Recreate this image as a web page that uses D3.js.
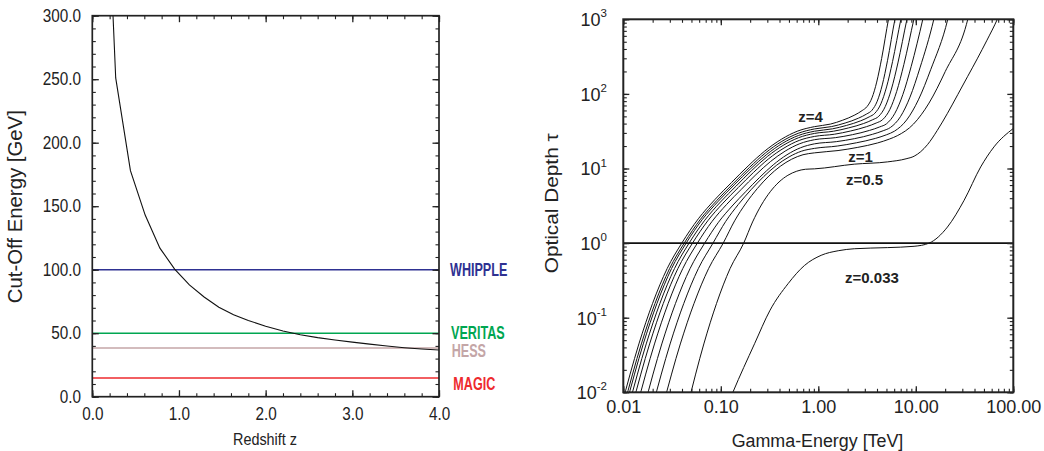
<!DOCTYPE html>
<html>
<head>
<meta charset="utf-8">
<script src="https://cdn.jsdelivr.net/npm/d3@7"></script>
<style>
  html, body { margin: 0; padding: 0; background: #fff; }
  svg { display: block; }
  text { font-family: "Liberation Sans", Arial, Helvetica, sans-serif; fill: #222; }
</style>
</head>
<body>
<svg id="chart" width="1044" height="451"></svg>
<script>
// ---------- Left panel: cut-off energy versus redshift ----------
const redshift  = [0.10, 0.27, 0.44, 0.61, 0.78, 0.95, 1.12, 1.29, 1.46, 1.63, 1.80, 2.00, 2.20, 2.40, 2.60, 2.80, 3.00, 3.20, 3.40, 3.60, 3.80, 4.00];
const cutoffGeV = [520, 251, 178, 143, 117, 100.5, 88, 78.5, 70.5, 64.5, 60, 55.5, 51.8, 48.8, 46.5, 44.6, 43.0, 41.4, 39.9, 38.6, 37.6, 36.8];

const instruments      = ["WHIPPLE", "VERITAS", "HESS", "MAGIC"];
const thresholdsGeV    = [100, 50, 38.3, 14.7];
const instrumentColors = ["#2e3192", "#00a651", "#c4a6a7", "#ee2a2e"];

const redshiftTicks = [0, 1, 2, 3, 4];
const energyGeVTicks = [0, 50, 100, 150, 200, 250, 300];

// ---------- Right panel: optical depth versus gamma energy ----------
const energyTeVTicks = [0.01, 0.1, 1, 10, 100];
const tauTicks = [0.01, 0.1, 1, 10, 100, 1000];

// each curve: [energy in TeV, optical depth]
const tau_z0033 = [[0.115,0.0063],[0.133,0.01],[0.222,0.0448],[0.32,0.126],[0.49,0.286],[0.72,0.50],[1.07,0.686],[1.6,0.79],[2.34,0.84],[5.1,0.87],[9.6,0.906],[13.7,1.0],[21.1,1.64],[31.3,3.75],[46.3,10.5],[63.4,19.5],[100,34.4]];
const tau_z05 = [[0.0455,0.00646],[0.067,0.0445],[0.0904,0.155],[0.1245,0.456],[0.1718,1],[0.2118,1.92],[0.2606,3.24],[0.3214,4.88],[0.3954,6.59],[0.4875,8.11],[0.6012,9.20],[0.7396,9.77],[0.912,9.89],[2.339,11.43],[5.14,12.27],[7.943,13.49],[9.616,14.62],[11.22,16.79],[13.18,20.89],[16.6,32.36],[21.13,54.95],[26.92,97.7],[33.88,169.8],[42.66,295],[53.7,525],[68.55,1000],[79.43,1585]];
const tau_z1 = [[0.02541,0.00646],[0.03846,0.0445],[0.05309,0.155],[0.07499,0.456],[0.1059,1],[0.1387,1.99],[0.1816,3.44],[0.2377,5.41],[0.3112,7.92],[0.4074,10.7],[0.5321,13.3],[0.6966,15.3],[0.912,16.2],[1.594,17.4],[2.541,19.2],[4.052,22.0],[5.358,24.8],[6.457,27.5],[9.469,39.4],[13.66,75.3],[20.03,199],[34.12,1000],[39.17,2239]];
const tau_band3 = [[0.01995,0.00646],[0.0302,0.0445],[0.04169,0.155],[0.05888,0.456],[0.08318,1],[0.1122,1.95],[0.1514,3.30],[0.2042,5.19],[0.2754,7.79],[0.3715,11.0],[0.5012,14.3],[0.6761,17.1],[0.912,18.6],[1.567,20.0],[2.455,22.1],[3.846,25.3],[5.035,28.4],[6.026,31.6],[8.054,44.7],[10.63,83.2],[14.21,211],[21.28,1000],[24.43,2239]];
const tau_band4 = [[0.01641,0.00646],[0.02483,0.0445],[0.03428,0.155],[0.04842,0.456],[0.06839,1],[0.0946,1.90],[0.1306,3.14],[0.1807,4.92],[0.25,7.59],[0.3451,11.2],[0.4775,15.3],[0.6592,19.0],[0.912,21.4],[1.531,22.9],[2.344,25.1],[3.589,28.7],[4.634,32.1],[5.495,35.5],[6.958,49.5],[8.716,90.4],[11.03,223],[15.31,1000],[17.58,2239]];
const tau_band5 = [[0.0138,0.00646],[0.02089,0.0445],[0.02884,0.155],[0.04074,0.456],[0.05754,1],[0.08128,1.95],[0.1148,3.30],[0.1622,5.25],[0.2291,8.26],[0.3236,12.4],[0.4571,17.1],[0.6457,21.5],[0.912,24.3],[1.496,25.9],[2.239,28.4],[3.350,32.4],[4.266,36.1],[5.012,39.8],[6.104,55.0],[7.369,98.2],[8.974,234],[11.80,1000],[13.55,2239]];
const tau_band6 = [[0.0123,0.00646],[0.01862,0.0445],[0.0257,0.155],[0.03631,0.456],[0.05129,1],[0.0735,1.99],[0.1052,3.43],[0.151,5.55],[0.2163,8.85],[0.3097,13.5],[0.4446,18.8],[0.6368,23.8],[0.912,26.9],[1.462,28.8],[2.138,31.8],[3.126,36.4],[3.926,40.7],[4.571,45.2],[5.415,61.7],[6.368,108],[7.545,248],[9.55,1000],[10.96,2239]];
const tau_band7 = [[0.01135,0.00646],[0.01718,0.0445],[0.02371,0.155],[0.0335,0.456],[0.04732,1],[0.0686,2.03],[0.0991,3.55],[0.1436,5.81],[0.2075,9.40],[0.3006,14.5],[0.4355,20.4],[0.6295,25.9],[0.912,29.5],[1.429,31.6],[2.042,35.0],[2.917,40.1],[3.614,45.1],[4.169,50.1],[4.86,67.6],[5.623,116],[6.555,260],[8.11,1000],[9.311,2239]];
const tau_band8 = [[0.01059,0.00646],[0.01603,0.0445],[0.02213,0.155],[0.03126,0.456],[0.04416,1],[0.0644,2.06],[0.0942,3.64],[0.1374,6.03],[0.2009,9.84],[0.2931,15.3],[0.4276,21.7],[0.6252,27.7],[0.912,31.6],[1.396,34.0],[1.950,37.8],[2.723,43.6],[3.327,49.2],[3.802,55.0],[4.38,73.5],[5.014,124],[5.776,271],[7.031,1000],[8.072,2239]];
const tau_band9 = [[0.01012,0.00646],[0.01531,0.0445],[0.02113,0.155],[0.02985,0.456],[0.04217,1],[0.06194,2.09],[0.0910,3.73],[0.1337,6.25],[0.1963,10.3],[0.2877,16.2],[0.4227,23.1],[0.6209,29.6],[0.912,33.9],[1.372,36.5],[1.884,40.7],[2.585,47.3],[3.126,53.7],[3.548,60.3],[4.021,79.8],[4.532,132],[5.134,282],[6.109,1000],[7.015,2239]];
const tau_z4 = [[0.00955,0.00646],[0.01445,0.0445],[0.01995,0.155],[0.02818,0.456],[0.03981,1],[0.05888,2.12],[0.0871,3.84],[0.1288,6.49],[0.1905,10.8],[0.2818,17.1],[0.4169,24.6],[0.6166,31.8],[0.912,36.4],[1.334,39.4],[1.778,44.4],[2.371,52.2],[2.818,59.8],[3.162,67.6],[3.553,88.5],[3.972,144],[4.463,298],[5.248,1000],[6.026,2239]];

const tauCurves = [tau_z0033, tau_z05, tau_z1, tau_band3, tau_band4, tau_band5, tau_band6, tau_band7, tau_band8, tau_band9, tau_z4];

const curveLabels = ["z=4", "z=1", "z=0.5", "z=0.033"];

// ---------- drawing ----------
const svg = d3.select("#chart");
const ink = "#222";

function tickStyle(g, w) {
  g.select(".domain").remove();
  g.selectAll(".tick line").attr("stroke", ink).attr("stroke-width", w);
}

// ===== Left panel =====
const L = { x0: 92.3, x1: 439, y0: 15.7, y1: 396.7 };
const xZ = d3.scaleLinear().domain([0, 4]).range([L.x0, L.x1]);
const yE = d3.scaleLinear().domain([0, 300]).range([L.y1, L.y0]);
const left = svg.append("g");

left.append("clipPath").attr("id", "clipL").append("rect")
  .attr("x", L.x0).attr("y", L.y0).attr("width", L.x1 - L.x0).attr("height", L.y1 - L.y0);

// instrument thresholds
const labelDy = [6.3, 6.1, 9.2, 12];
const labelX = [450, 451, 451.7, 453.3];
thresholdsGeV.forEach((v, i) => {
  left.append("line")
    .attr("x1", xZ(0)).attr("x2", xZ(4)).attr("y1", yE(v)).attr("y2", yE(v))
    .attr("stroke", instrumentColors[i]).attr("stroke-width", 1.6);
  left.append("text")
    .attr("transform", `translate(${labelX[i]},${yE(v) + labelDy[i]}) scale(0.72,1)`)
    .attr("font-size", 17.5).attr("font-weight", "bold")
    .style("fill", instrumentColors[i])
    .text(instruments[i]);
});

// cut-off energy curve
const cutoffPts = redshift.map((z, i) => [z, cutoffGeV[i]]);
left.append("path")
  .attr("clip-path", "url(#clipL)")
  .attr("d", d3.line().x(d => xZ(d[0])).y(d => yE(d[1]))(cutoffPts))
  .attr("fill", "none").attr("stroke", "#111").attr("stroke-width", 1.1);

// ticks (inward, mirrored on all sides)
const zMinor = d3.range(0, 4.001, 0.2);
const eMinor = d3.range(0, 300.1, 10);
const f1 = d3.format(".1f");

left.append("g").attr("transform", `translate(0,${L.y1})`)
  .call(d3.axisBottom(xZ).tickValues(zMinor).tickSizeInner(-3.5).tickSizeOuter(0).tickFormat(""))
  .call(g => tickStyle(g, 1.1));
left.append("g").attr("transform", `translate(0,${L.y0})`)
  .call(d3.axisTop(xZ).tickValues(zMinor).tickSizeInner(-3.5).tickSizeOuter(0).tickFormat(""))
  .call(g => tickStyle(g, 1.1));
left.append("g").attr("transform", `translate(${L.x0},0)`)
  .call(d3.axisLeft(yE).tickValues(eMinor).tickSizeInner(-3.5).tickSizeOuter(0).tickFormat(""))
  .call(g => tickStyle(g, 1.1));
left.append("g").attr("transform", `translate(${L.x1},0)`)
  .call(d3.axisRight(yE).tickValues(eMinor).tickSizeInner(-3.5).tickSizeOuter(0).tickFormat(""))
  .call(g => tickStyle(g, 1.1));

left.append("g").attr("transform", `translate(0,${L.y1})`)
  .call(d3.axisBottom(xZ).tickValues(redshiftTicks).tickSizeInner(-6.5).tickSizeOuter(0).tickPadding(10.6).tickFormat(f1))
  .call(g => {
    tickStyle(g, 1.3);
    g.selectAll("text").attr("font-size", 18).attr("font-family", null)
      .attr("transform", "scale(0.85,1)").style("fill", ink);
  });
left.append("g").attr("transform", `translate(0,${L.y0})`)
  .call(d3.axisTop(xZ).tickValues(redshiftTicks).tickSizeInner(-6.5).tickSizeOuter(0).tickFormat(""))
  .call(g => tickStyle(g, 1.3));
left.append("g").attr("transform", `translate(${L.x0},0)`)
  .call(d3.axisLeft(yE).tickValues(energyGeVTicks).tickSizeInner(-6.5).tickSizeOuter(0).tickPadding(13.3).tickFormat(f1))
  .call(g => {
    tickStyle(g, 1.3);
    g.selectAll("text").attr("font-size", 18).attr("font-family", null)
      .attr("transform", "scale(0.85,1)").style("fill", ink);
  });
left.append("g").attr("transform", `translate(${L.x1},0)`)
  .call(d3.axisRight(yE).tickValues(energyGeVTicks).tickSizeInner(-6.5).tickSizeOuter(0).tickFormat(""))
  .call(g => tickStyle(g, 1.3));

left.append("rect")
  .attr("x", L.x0).attr("y", L.y0).attr("width", L.x1 - L.x0).attr("height", L.y1 - L.y0)
  .attr("fill", "none").attr("stroke", ink).attr("stroke-width", 1.7);

left.append("text")
  .attr("x", 265).attr("y", 444.5).attr("text-anchor", "middle")
  .attr("font-size", 17).attr("textLength", 64).attr("lengthAdjust", "spacingAndGlyphs")
  .text("Redshift z");
left.append("text")
  .attr("transform", "translate(22,206.7) rotate(-90)").attr("text-anchor", "middle")
  .attr("font-size", 19.5).attr("textLength", 193).attr("lengthAdjust", "spacingAndGlyphs")
  .text("Cut-Off Energy [GeV]");

// ===== Right panel =====
const R = { x0: 623.3, x1: 1013.3, y0: 19.3, y1: 392.3 };
const xG = d3.scaleLog().domain([0.01, 100]).range([R.x0, R.x1]);
const yT = d3.scaleLog().domain([0.01, 1000]).range([R.y1, R.y0]);
const right = svg.append("g");

right.append("clipPath").attr("id", "clipR").append("rect")
  .attr("x", R.x0).attr("y", R.y0).attr("width", R.x1 - R.x0).attr("height", R.y1 - R.y0);

// optical depth unity
right.append("line")
  .attr("x1", R.x0).attr("x2", R.x1).attr("y1", yT(1)).attr("y2", yT(1))
  .attr("stroke", "#111").attr("stroke-width", 1.7);

const tauLine = d3.line().x(d => xG(d[0])).y(d => yT(d[1])).curve(d3.curveMonotoneX);
right.append("g").attr("clip-path", "url(#clipR)")
  .selectAll("path").data(tauCurves).join("path")
  .attr("d", tauLine)
  .attr("fill", "none").attr("stroke", "#111").attr("stroke-width", 1);

// curve labels, anchored in data coordinates
const labelAnchors = [[0.624, 42.4], [2.03, 12.3], [1.92, 6.0], [1.88, 0.289]];
curveLabels.forEach((t, i) => {
  right.append("text")
    .attr("x", xG(labelAnchors[i][0])).attr("y", yT(labelAnchors[i][1]))
    .attr("font-size", 15).attr("font-weight", "bold")
    .text(t);
});

// ticks
const xMinor = xG.ticks();
const yMinor = yT.ticks();
const fmt2 = d3.format(".2f");

right.append("g").attr("transform", `translate(0,${R.y1})`)
  .call(d3.axisBottom(xG).tickValues(xMinor).tickSizeInner(-3.5).tickSizeOuter(0).tickFormat(""))
  .call(g => tickStyle(g, 1.1));
right.append("g").attr("transform", `translate(0,${R.y0})`)
  .call(d3.axisTop(xG).tickValues(xMinor).tickSizeInner(-3.5).tickSizeOuter(0).tickFormat(""))
  .call(g => tickStyle(g, 1.1));
right.append("g").attr("transform", `translate(${R.x0},0)`)
  .call(d3.axisLeft(yT).tickValues(yMinor).tickSizeInner(-3.5).tickSizeOuter(0).tickFormat(""))
  .call(g => tickStyle(g, 1.1));
right.append("g").attr("transform", `translate(${R.x1},0)`)
  .call(d3.axisRight(yT).tickValues(yMinor).tickSizeInner(-3.5).tickSizeOuter(0).tickFormat(""))
  .call(g => tickStyle(g, 1.1));

right.append("g").attr("transform", `translate(0,${R.y1})`)
  .call(d3.axisBottom(xG).tickValues(energyTeVTicks).tickSizeInner(-6).tickSizeOuter(0).tickPadding(7.7).tickFormat(fmt2))
  .call(g => {
    tickStyle(g, 1.3);
    g.selectAll("text").attr("font-size", 18).attr("font-family", null).style("fill", ink);
  });
right.append("g").attr("transform", `translate(0,${R.y0})`)
  .call(d3.axisTop(xG).tickValues(energyTeVTicks).tickSizeInner(-6).tickSizeOuter(0).tickFormat(""))
  .call(g => tickStyle(g, 1.3));
right.append("g").attr("transform", `translate(${R.x0},0)`)
  .call(d3.axisLeft(yT).tickValues(tauTicks).tickSizeInner(-6).tickSizeOuter(0).tickFormat(""))
  .call(g => tickStyle(g, 1.3));
right.append("g").attr("transform", `translate(${R.x1},0)`)
  .call(d3.axisRight(yT).tickValues(tauTicks).tickSizeInner(-6).tickSizeOuter(0).tickFormat(""))
  .call(g => tickStyle(g, 1.3));

// power-of-ten labels
tauTicks.forEach(t => {
  const e = Math.round(Math.log10(t));
  const tx = right.append("text")
    .attr("x", 607).attr("y", yT(t) + 6.8)
    .attr("text-anchor", "end").attr("font-size", 18);
  tx.append("tspan").text("10");
  tx.append("tspan").attr("font-size", 11.5).attr("dy", -8.8).text(e < 0 ? "-" + (-e) : String(e));
});

right.append("rect")
  .attr("x", R.x0).attr("y", R.y0).attr("width", R.x1 - R.x0).attr("height", R.y1 - R.y0)
  .attr("fill", "none").attr("stroke", ink).attr("stroke-width", 2);

right.append("text")
  .attr("x", 817.5).attr("y", 447).attr("text-anchor", "middle")
  .attr("font-size", 18).attr("textLength", 171.7).attr("lengthAdjust", "spacingAndGlyphs")
  .text("Gamma-Energy [TeV]");
right.append("text")
  .attr("transform", "translate(558,203.3) rotate(-90)").attr("text-anchor", "middle")
  .attr("font-size", 19).attr("textLength", 140).attr("lengthAdjust", "spacingAndGlyphs")
  .text("Optical Depth τ");
</script>
</body>
</html>
